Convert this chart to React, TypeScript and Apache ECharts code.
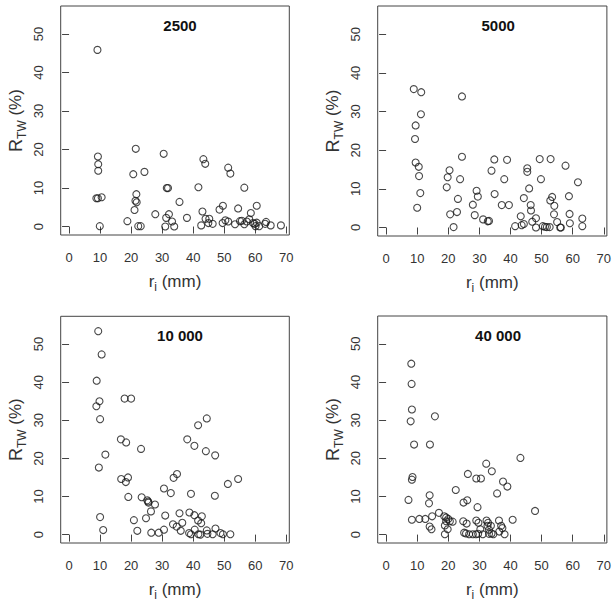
import React, { useEffect, useRef } from "react";
import * as echarts from "echarts";

// Panel titles
const panelTitles = ["2500", "5000", "10 000", "40 000"];

// Tick values shared by all panels
const xTicks = [0, 10, 20, 30, 40, 50, 60, 70];
const yTicks = [0, 10, 20, 30, 40, 50];

// [r_i (mm), R_TW (%)] pairs per panel
const data2500: number[][] = [
  [9.15, 45.9], [9.3, 18.2], [9.4, 16.2], [9.4, 14.5], [8.8, 7.35], [9.3, 7.35],
  [10.5, 7.6], [9.9, 0.1], [18.8, 1.4], [21.5, 20.2], [20.7, 13.6], [24.3, 14.2],
  [21.7, 8.4], [21.4, 6.7], [21.8, 6.3], [21.1, 4.3], [22.3, 0.1], [23.1, 0.1],
  [27.8, 3.2], [30.5, 18.9], [31.5, 10.0], [31.9, 10.0], [31.3, 2.25], [32.2, 3.2],
  [31.0, 0.0], [33.2, 1.3], [33.9, 0.0], [35.6, 6.4], [38.0, 2.25], [41.7, 10.2],
  [43.3, 17.5], [43.9, 16.3], [43.0, 3.9], [42.6, 0.3], [44.0, 2.0], [45.2, 2.0],
  [44.9, 0.9], [46.3, 0.7], [48.5, 4.4], [49.6, 5.4], [49.5, 0.9], [50.4, 1.6],
  [51.3, 15.3], [52.0, 13.75], [51.3, 1.3], [54.5, 4.7], [55.1, 1.4], [55.7, 1.5],
  [53.5, 0.6], [56.5, 10.1], [56.5, 0.6], [57.3, 1.3], [58.6, 3.5], [58.1, 1.9],
  [59.3, 0.9], [59.8, 0.7], [60.5, 5.4], [60.5, 1.0], [61.3, 0.1], [60.1, 0.1],
  [63.5, 1.2], [63.2, 0.7], [65.0, 0.3], [68.3, 0.3],
];

const data5000: number[][] = [
  [8.9, 35.8], [11.3, 35.0], [11.2, 29.3], [9.5, 26.4], [9.3, 22.9], [9.5, 16.8],
  [10.5, 15.7], [10.6, 13.3], [11.0, 8.9], [10.0, 5.1], [24.4, 33.9], [24.4, 18.3],
  [19.5, 10.4], [19.8, 13.0], [20.4, 14.8], [23.8, 12.5], [20.6, 3.4], [21.7, 0.1],
  [23.1, 7.4], [22.8, 4.0], [27.9, 5.9], [29.1, 9.5], [29.5, 8.0], [28.5, 3.2],
  [31.2, 2.1], [32.7, 1.6], [33.1, 1.7], [33.9, 14.7], [34.8, 17.6], [34.9, 8.65],
  [37.2, 5.8], [38.0, 12.5], [38.9, 17.5], [39.5, 5.8], [41.5, 0.35], [43.3, 2.9],
  [43.6, 0.6], [44.3, 0.9], [44.3, 7.6], [45.4, 14.4], [45.4, 15.3], [46.0, 10.1],
  [46.5, 5.8], [46.6, 4.4], [47.0, 1.5], [48.2, 2.4], [48.2, 0.0], [49.4, 17.7],
  [49.8, 12.5], [50.4, 0.35], [51.1, 0.2], [51.7, 0.1], [52.6, 0.1], [52.9, 17.7],
  [52.8, 7.0], [53.4, 7.9], [54.1, 5.6], [54.0, 3.4], [55.0, 1.4], [56.0, 0.0],
  [56.2, 0.0], [57.7, 16.0], [58.8, 8.1], [59.0, 3.5], [59.1, 1.1], [61.7, 11.7],
  [63.1, 2.3], [63.1, 0.35],
];

const data10000: number[][] = [
  [9.4, 53.4], [10.5, 47.3], [8.9, 40.4], [9.8, 35.0], [8.8, 33.7], [10.0, 30.3],
  [11.7, 21.0], [9.6, 17.6], [10.0, 4.6], [11.0, 1.2], [17.9, 35.7], [20.0, 35.7],
  [16.7, 25.0], [18.4, 24.2], [23.2, 22.5], [16.8, 14.6], [18.3, 13.8], [19.0, 15.0],
  [19.1, 9.9], [20.9, 3.8], [22.0, 1.0], [23.4, 9.8], [25.2, 9.0], [25.6, 8.4],
  [25.5, 8.7], [27.7, 7.9], [24.8, 4.3], [26.4, 6.1], [26.5, 0.5], [28.9, 0.5],
  [30.6, 12.1], [31.0, 5.0], [30.6, 1.3], [32.8, 10.9], [33.7, 14.9], [34.8, 15.9],
  [33.5, 2.7], [34.7, 2.1], [35.6, 5.6], [36.5, 3.1], [36.0, 1.0], [38.1, 25.0],
  [40.4, 23.3], [41.6, 28.7], [44.4, 30.5], [44.1, 21.9], [47.1, 20.8], [39.3, 10.7],
  [38.8, 5.8], [40.4, 5.1], [41.6, 3.7], [42.8, 4.8], [42.6, 3.0], [38.7, 0.4],
  [39.3, 0.1], [40.5, 1.3], [41.7, 0.1], [42.3, 0.0], [44.4, 1.1], [44.6, 0.2],
  [46.3, 0.1], [47.0, 10.2], [47.2, 1.6], [48.8, 0.4], [49.6, 0.1], [51.2, 13.3],
  [52.0, 0.1], [54.5, 14.6],
];

const data40000: number[][] = [
  [8.1, 44.8], [8.2, 39.5], [8.3, 32.8], [7.9, 29.7], [9.0, 23.6], [8.3, 14.4],
  [8.5, 15.1], [7.2, 9.1], [8.3, 3.9], [10.7, 4.1], [12.6, 4.1], [14.8, 4.8],
  [15.7, 31.0], [14.1, 23.6], [14.0, 10.3], [13.8, 8.2], [14.0, 2.1], [14.6, 1.4],
  [17.0, 5.7], [18.7, 4.8], [18.9, 2.4], [19.3, 3.5], [19.3, 4.5], [20.0, 4.1],
  [20.5, 3.5], [21.4, 3.4], [19.8, 1.4], [18.9, 0.1], [22.4, 11.7], [24.9, 8.4],
  [26.1, 9.0], [26.3, 15.9], [24.8, 3.5], [25.9, 2.9], [25.1, 0.5], [25.7, 0.3],
  [26.7, 0.1], [27.9, 0.1], [28.9, 0.1], [29.0, 14.7], [30.5, 14.7], [29.4, 7.2],
  [29.0, 3.7], [29.7, 3.1], [30.3, 1.4], [29.6, 0.2], [31.1, 0.1], [32.2, 18.6],
  [34.0, 16.6], [32.3, 3.7], [32.8, 3.1], [32.6, 2.3], [33.1, 1.3], [33.7, 2.3],
  [33.9, 0.3], [33.1, 0.2], [34.5, 0.1], [35.7, 10.8], [36.3, 3.7], [36.4, 0.8],
  [37.0, 2.3], [37.4, 1.7], [37.6, 13.9], [39.0, 12.6], [38.1, 0.1], [40.7, 3.9],
  [43.2, 20.1], [47.9, 6.2],
];

const panelData = [data2500, data5000, data10000, data40000];

// Plot-region boxes (px) for the 2x2 layout
const boxes = [
  { left: 60.7, top: 6, width: 228.6, height: 229 },
  { left: 377.7, top: 6, width: 231, height: 230 },
  { left: 60.7, top: 316.3, width: 228.6, height: 229.2 },
  { left: 377.7, top: 316, width: 230.7, height: 230 },
];

const FONT = "Liberation Sans, Arial, Helvetica, sans-serif";
const LINE = "#444";
const TEXT = "#333";

export default function App() {
  const ref = useRef<HTMLDivElement>(null);

  useEffect(() => {
    if (!ref.current) return;
    const chart = echarts.init(ref.current, undefined, { renderer: "svg" });

    const grid = boxes.map((b) => ({
      left: b.left,
      top: b.top,
      width: b.width,
      height: b.height,
      show: true,
      borderColor: LINE,
      borderWidth: 1,
      backgroundColor: "transparent",
      containLabel: false,
    }));

    const xAxis = boxes.map((_, i) => ({
      type: "value",
      gridIndex: i,
      min: -2.7,
      max: 71,
      axisLine: { show: false },
      splitLine: { show: false },
      axisTick: {
        show: true,
        inside: false,
        length: 7,
        customValues: xTicks,
        lineStyle: { color: LINE, width: 1 },
      },
      axisLabel: {
        show: true,
        customValues: xTicks,
        margin: 16,
        color: TEXT,
        fontSize: 13,
        fontFamily: FONT,
      },
      name: "{r|r}{s|i}{n| (mm)}",
      nameLocation: "middle",
      nameGap: 34,
      nameTextStyle: {
        color: TEXT,
        fontFamily: FONT,
        rich: {
          r: { fontSize: 17, lineHeight: 24, verticalAlign: "middle", color: TEXT, fontFamily: FONT },
          s: { fontSize: 12, lineHeight: 12, verticalAlign: "bottom", color: TEXT, fontFamily: FONT },
          n: { fontSize: 17, lineHeight: 24, verticalAlign: "middle", color: TEXT, fontFamily: FONT },
        },
      },
    }));

    const yAxis = boxes.map((_, i) => ({
      type: "value",
      gridIndex: i,
      min: -2.2,
      max: 57.3,
      axisLine: { show: false },
      splitLine: { show: false },
      axisTick: {
        show: true,
        inside: false,
        length: 7,
        customValues: yTicks,
        lineStyle: { color: LINE, width: 1 },
      },
      axisLabel: {
        show: true,
        customValues: yTicks,
        rotate: 90,
        margin: 16,
        color: TEXT,
        fontSize: 13,
        fontFamily: FONT,
      },
      name: "{r|R}{s|TW}{n| (%)}",
      nameLocation: "middle",
      nameGap: 33,
      nameTextStyle: {
        color: TEXT,
        fontFamily: FONT,
        rich: {
          r: { fontSize: 18, lineHeight: 24, verticalAlign: "middle", color: TEXT, fontFamily: FONT },
          s: { fontSize: 12, lineHeight: 12, verticalAlign: "bottom", color: TEXT, fontFamily: FONT },
          n: { fontSize: 17, lineHeight: 24, verticalAlign: "middle", color: TEXT, fontFamily: FONT },
        },
      },
    }));

    const title = boxes.map((b, i) => ({
      text: panelTitles[i],
      left: b.left + b.width / 2,
      top: b.top + 7,
      textAlign: "center",
      textStyle: {
        fontSize: 15,
        fontWeight: "bold",
        color: "#111",
        fontFamily: FONT,
      },
    }));

    const series = panelData.map((d, i) => ({
      type: "scatter",
      xAxisIndex: i,
      yAxisIndex: i,
      data: d,
      symbol: "circle",
      symbolSize: 7,
      itemStyle: {
        color: "rgba(0,0,0,0)",
        borderColor: "#1a1a1a",
        borderWidth: 1.1,
      },
      emphasis: { disabled: true },
    }));

    chart.setOption({
      animation: false,
      backgroundColor: "#fff",
      title,
      grid,
      xAxis,
      yAxis,
      series,
    });

    return () => chart.dispose();
  }, []);

  return (
    <div
      ref={ref}
      style={{ position: "fixed", left: 0, top: 0, width: 614, height: 602, background: "#fff" }}
    />
  );
}
